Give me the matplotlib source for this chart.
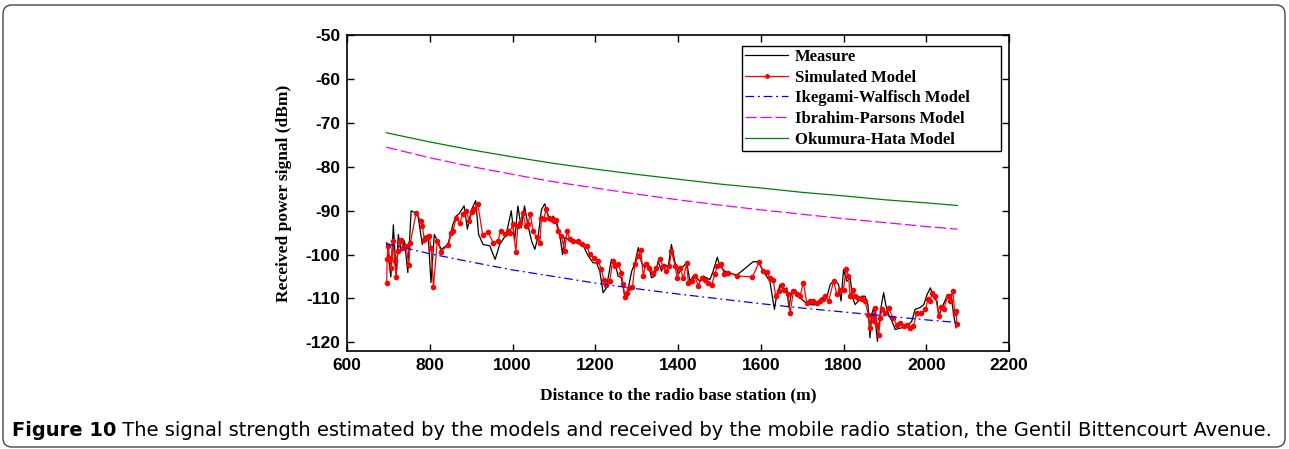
import matplotlib
matplotlib.use('Agg')
import matplotlib.pyplot as plt
from matplotlib.patches import FancyBboxPatch
from matplotlib.transforms import IdentityTransform

plt.rcParams['axes.unicode_minus'] = False

# measured signal (black)
meas_x = [696, 706, 712, 719, 724, 731, 739, 747, 755, 771,
          782, 787, 797, 803, 811, 828, 844, 856, 864, 870,
          883, 891, 900, 911, 918, 929, 945, 958, 969, 985,
          997, 1005, 1013, 1021, 1029, 1037, 1046, 1054, 1062, 1070,
          1078, 1086, 1094, 1098, 1106, 1114, 1121, 1126, 1134, 1142,
          1154, 1171, 1183, 1195, 1203, 1211, 1219, 1227, 1239, 1247,
          1255, 1263, 1272, 1280, 1288, 1296, 1304, 1312, 1320, 1328,
          1336, 1344, 1352, 1360, 1368, 1376, 1384, 1393, 1401, 1409,
          1421, 1429, 1437, 1445, 1453, 1461, 1469, 1477, 1485, 1495,
          1501, 1513, 1542, 1582, 1594, 1606, 1622, 1633, 1639, 1647,
          1655, 1663, 1668, 1675, 1683, 1691, 1699, 1709, 1719, 1731,
          1747, 1760, 1768, 1778, 1788, 1794, 1800, 1808, 1816, 1822,
          1828, 1836, 1844, 1852, 1859, 1864, 1868, 1873, 1877, 1882,
          1889, 1897, 1902, 1909, 1917, 1925, 1941, 1957, 1965, 1973,
          1985, 1994, 2002, 2010, 2018, 2026, 2030, 2038, 2050, 2060,
          2066, 2072]
meas_y = [-97.3, -105.1, -93.2, -104.5, -95.4, -99.2, -96.9, -104.1, -90.0, -90.8,
          -97.7, -95.8, -96.9, -106.4, -95.4, -98.8, -97.7, -93.1, -91.2, -90.8,
          -88.9, -94.2, -90.0, -87.7, -95.4, -97.7, -98.0, -101.1, -97.7, -95.4,
          -90.0, -96.9, -88.9, -93.9, -88.9, -93.1, -96.9, -98.8, -95.8, -89.7,
          -88.4, -91.2, -92.3, -91.2, -92.3, -95.4, -100.0, -96.1, -96.5, -96.5,
          -97.3, -98.0, -100.3, -101.9, -101.9, -103.8, -108.7, -107.6, -101.1, -101.5,
          -104.9, -105.3, -109.9, -107.6, -103.8, -101.9, -98.4, -101.9, -103.0, -101.9,
          -105.3, -104.9, -101.5, -103.8, -102.2, -103.0, -97.7, -101.9, -104.5, -103.0,
          -101.9, -106.1, -104.9, -105.3, -106.1, -104.9, -105.3, -105.7, -103.8, -100.6,
          -102.6, -103.8, -104.7, -101.6, -101.7, -103.8, -106.1, -112.5, -109.1, -106.8,
          -108.3, -107.6, -112.1, -108.3, -108.0, -109.1, -110.2, -111.0, -111.4, -111.5,
          -109.9, -109.5, -106.8, -105.9, -106.8, -110.6, -103.4, -106.1, -105.3, -109.9,
          -111.4, -110.6, -109.5, -109.5, -111.4, -119.0, -113.7, -112.1, -115.2, -119.8,
          -112.9, -108.7, -111.4, -113.7, -115.2, -117.1, -116.7, -116.0, -115.2, -112.5,
          -112.1, -111.4, -109.1, -107.6, -109.9, -110.6, -114.1, -112.1, -109.5, -109.1,
          -113.7, -116.7]

# simulated model (red with dots)
sim_x = [696, 697, 699, 703, 707, 711, 715, 719, 723, 727,
         731, 735, 743, 749, 753, 767, 779, 782, 787, 794,
         799, 803, 809, 818, 828, 845, 852, 856, 864, 872,
         880, 887, 896, 902, 908, 916, 928, 941, 953, 965,
         971, 981, 989, 993, 1001, 1008, 1013, 1019, 1025, 1032,
         1037, 1043, 1050, 1058, 1066, 1070, 1075, 1082, 1088, 1094,
         1100, 1104, 1110, 1118, 1126, 1132, 1138, 1146, 1159, 1167,
         1179, 1187, 1196, 1207, 1215, 1221, 1227, 1235, 1242, 1247,
         1255, 1263, 1267, 1272, 1277, 1282, 1290, 1296, 1304, 1310,
         1316, 1322, 1330, 1340, 1348, 1356, 1364, 1372, 1379, 1384,
         1393, 1398, 1405, 1413, 1421, 1425, 1433, 1441, 1449, 1457,
         1465, 1473, 1481, 1489, 1495, 1504, 1512, 1522, 1542, 1580,
         1596, 1606, 1614, 1622, 1630, 1636, 1643, 1651, 1657, 1665,
         1671, 1679, 1687, 1695, 1703, 1711, 1719, 1727, 1735, 1743,
         1751, 1756, 1764, 1776, 1784, 1792, 1800, 1806, 1812, 1816,
         1822, 1828, 1836, 1844, 1852, 1860, 1864, 1868, 1873, 1877,
         1881, 1885, 1889, 1893, 1901, 1909, 1919, 1929, 1937, 1945,
         1953, 1961, 1969, 1977, 1988, 1998, 2004, 2010, 2014, 2022,
         2031, 2036, 2042, 2052, 2058, 2064, 2069, 2072, 2074]
sim_y = [-106.4, -101.1, -98.0, -100.7, -103.0, -96.9, -101.5, -105.1, -99.2, -96.9,
         -96.7, -98.4, -98.0, -102.4, -97.3, -90.6, -92.3, -93.5, -96.7, -96.0,
         -95.8, -98.4, -107.4, -97.0, -99.3, -97.8, -95.0, -94.6, -91.6, -92.7,
         -90.8, -90.0, -92.3, -90.2, -89.7, -88.5, -95.5, -94.8, -97.3, -97.0,
         -94.6, -95.4, -94.6, -95.0, -93.1, -99.4, -93.5, -92.7, -90.4, -93.5,
         -93.1, -90.8, -94.6, -96.1, -97.3, -91.7, -91.9, -89.6, -91.6, -91.9,
         -92.3, -92.2, -94.6, -95.8, -99.2, -94.6, -96.5, -96.9, -97.0, -97.5,
         -98.0, -99.9, -100.7, -101.5, -103.4, -105.9, -107.0, -106.0, -101.5, -102.6,
         -102.2, -104.1, -106.8, -109.7, -108.7, -107.6, -107.4, -102.1, -100.3, -99.0,
         -104.9, -102.2, -103.0, -104.1, -103.0, -101.1, -102.6, -103.8, -102.6, -99.2,
         -102.6, -105.3, -103.0, -105.4, -101.9, -106.4, -106.1, -104.9, -107.2, -105.3,
         -105.7, -106.4, -107.0, -104.5, -102.6, -102.2, -104.5, -104.1, -104.9, -105.1,
         -101.7, -103.8, -103.9, -105.4, -105.7, -109.5, -108.3, -107.0, -108.0, -109.1,
         -113.3, -108.3, -109.1, -109.5, -106.4, -111.0, -110.6, -110.6, -111.0, -110.6,
         -110.2, -109.5, -110.6, -106.1, -109.1, -108.0, -108.0, -103.4, -104.9, -109.5,
         -108.0, -109.5, -109.9, -110.2, -110.6, -113.7, -116.7, -113.7, -115.2, -112.1,
         -116.0, -118.3, -114.4, -112.5, -113.3, -112.1, -114.4, -116.0, -115.6, -116.3,
         -116.0, -116.7, -116.3, -113.3, -113.3, -112.5, -110.2, -110.6, -108.7, -109.5,
         -114.1, -112.0, -112.5, -109.5, -110.6, -108.3, -113.3, -112.9, -115.8]

# empirical models
model_x = [695, 800, 900, 1000, 1100, 1200, 1300, 1400, 1500, 1600, 1700, 1800, 1900, 2000, 2075]
ikegami = [-97.5, -99.8, -101.7, -103.5, -105.0, -106.5, -107.8, -109.0, -110.1, -111.2, -112.2, -113.1, -114.0, -114.9, -115.5]
ibrahim = [-75.5, -77.9, -79.9, -81.7, -83.4, -84.8, -86.2, -87.5, -88.7, -89.8, -90.8, -91.8, -92.7, -93.6, -94.2]
hata = [-72.2, -74.3, -76.1, -77.7, -79.2, -80.5, -81.7, -82.8, -83.9, -84.8, -85.8, -86.6, -87.5, -88.2, -88.8]

xticks = [600, 800, 1000, 1200, 1400, 1600, 1800, 2000, 2200]
yticks = [-120, -110, -100, -90, -80, -70, -60, -50]

fig = plt.figure(figsize=(12.89, 4.49), dpi=100)
ax = fig.add_axes([0.2692, 0.2183, 0.5136, 0.7027])

ax.plot(meas_x, meas_y, color='k', lw=0.9, label='Measure')
ax.plot(sim_x, sim_y, color='#ff0000', lw=0.9, marker='o', ms=3, label='Simulated Model')
ax.plot(model_x, ikegami, color='#0000ff', lw=0.9, dashes=(7, 3, 1.5, 3), label='Ikegami-Walfisch Model')
ax.plot(model_x, ibrahim, color='#ee00ee', lw=0.9, dashes=(9, 3), label='Ibrahim-Parsons Model')
ax.plot(model_x, hata, color='#008000', lw=0.9, label='Okumura-Hata Model')

ax.set_xlim(600, 2200)
ax.set_ylim(-122, -50)
ax.set_xticks(xticks)
ax.set_yticks(yticks)
ax.tick_params(direction='in', length=5, width=1, top=True, right=True, pad=5)
for lab in ax.get_xticklabels() + ax.get_yticklabels():
    lab.set_fontfamily('Liberation Sans')
    lab.set_fontweight('bold')
    lab.set_fontsize(12.5)
for sp in ax.spines.values():
    sp.set_linewidth(1.2)

ax.set_xlabel('Distance to the radio base station (m)', fontfamily='Liberation Serif',
              fontweight='bold', fontsize=12.5, va='top')
ax.set_ylabel('Received power signal (dBm)', fontfamily='Liberation Serif',
              fontweight='bold', fontsize=12.5)
ax.xaxis.set_label_coords(0.5, -0.115)
ax.yaxis.set_label_coords(-0.083, 0.5)

leg = ax.legend(loc='upper left', bbox_to_anchor=(0.5967, 0.5, 0.391, 0.467), mode='expand',
                borderaxespad=0,
                prop={'family': 'Liberation Serif', 'weight': 'bold', 'size': 12},
                fancybox=False, edgecolor='k', framealpha=1, handlelength=2.6,
                labelspacing=0.28, borderpad=0.18, handletextpad=0.4)
leg.get_frame().set_linewidth(1.0)
for h in leg.get_lines():
    h.set_markersize(2.5)

# rounded frame around the figure
frame = FancyBboxPatch((3, 2), 1282, 442, boxstyle='round,pad=0,rounding_size=9',
                       transform=IdentityTransform(), fill=False, edgecolor='#444444', lw=1.0)
fig.add_artist(frame)

# caption, sized to span the same width as the original
caption_rest = ' The signal strength estimated by the models and received by the mobile radio station, the Gentil Bittencourt Avenue.'
t1 = fig.text(12 / 1289, 18 / 449, 'Figure 10', fontfamily='DejaVu Sans', fontweight='bold',
              fontsize=13, va='center', ha='left')
t2 = fig.text(0.1, 18 / 449, caption_rest, fontfamily='DejaVu Sans', fontsize=13,
              va='center', ha='left')
fig.canvas.draw()
r = fig.canvas.get_renderer()
w = t1.get_window_extent(renderer=r).width + t2.get_window_extent(renderer=r).width
size = 13 * 1263 / w
t1.set_fontsize(size)
t2.set_fontsize(size)
fig.canvas.draw()
bb = t1.get_window_extent(renderer=r)
t2.set_x(bb.x1 / 1289)

fig.savefig('out.png', dpi=100)
